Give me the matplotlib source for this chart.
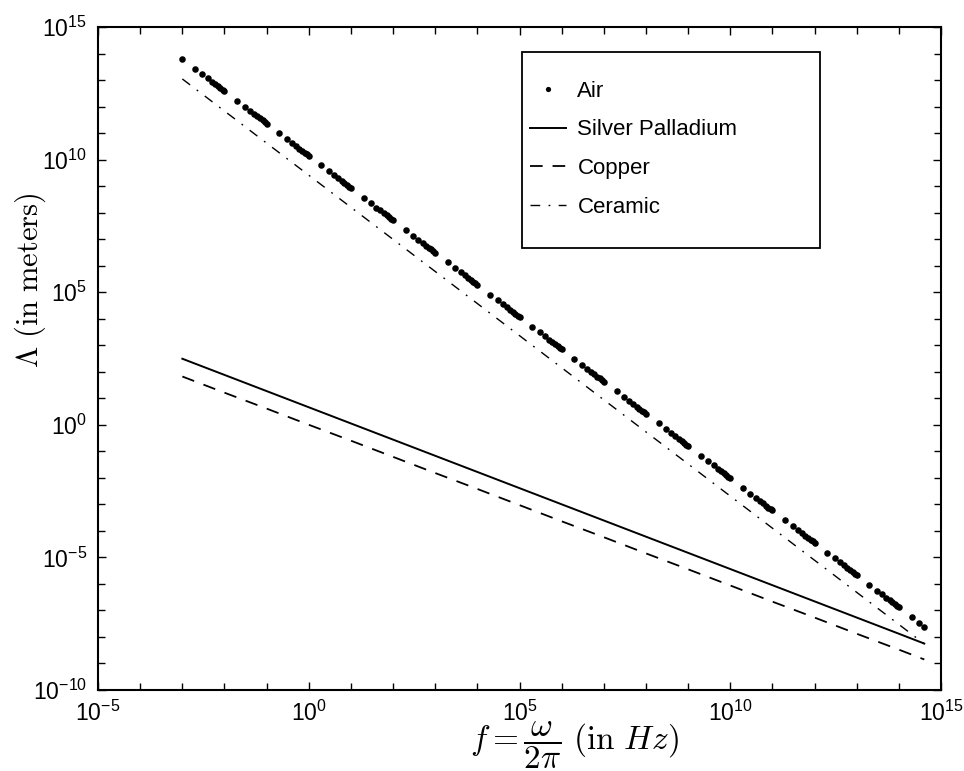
import numpy as np
import matplotlib
matplotlib.use("Agg")
import matplotlib.pyplot as plt
from matplotlib.ticker import FixedLocator, FuncFormatter, NullFormatter
from matplotlib.patches import Rectangle

# ---------------------------------------------------------------- data
# Metals and ceramic: decade frequencies (Hz) and log10 of Lambda (m)
FREQ_HZ = [1e-3, 1e-2, 1e-1, 1e0, 1e1, 1e2, 1e3, 1e4, 1e5, 1e6, 1e7,
           1e8, 1e9, 1e10, 1e11, 1e12, 1e13, 1e14, 4e14]
SILVER_PALLADIUM_LOG10 = [2.49, 1.88, 1.27, 0.66, 0.05, -0.56, -1.17, -1.78,
                          -2.39, -3.00, -3.61, -4.22, -4.83, -5.44, -6.05,
                          -6.66, -7.27, -7.88, -8.25]
COPPER_LOG10 = [1.82, 1.21, 0.61, 0.00, -0.60, -1.21, -1.82, -2.42, -3.03,
                -3.64, -4.24, -4.85, -5.45, -6.06, -6.67, -7.27, -7.88,
                -8.48, -8.85]
CERAMIC_LOG10 = [13.04, 11.83, 10.62, 9.41, 8.20, 6.99, 5.78, 4.57, 3.36,
                 2.15, 0.94, -0.27, -1.48, -2.69, -3.90, -5.11, -6.32,
                 -7.53, -8.26]

# Air: sampled at 1..9 x 10^k Hz, one row of log10(Lambda) per decade
AIR_DECADES = [-3, -2, -1, 0, 1, 2, 3, 4, 5, 6, 7, 8, 9, 10, 11, 12, 13, 14]
AIR_STEPS = [1, 2, 3, 4, 5, 6, 7, 8, 9]
AIR_LOG10 = [
    [13.79, 13.42, 13.21, 13.06, 12.94, 12.84, 12.76, 12.69, 12.63],
    [12.57, 12.21, 11.99, 11.84, 11.72, 11.63, 11.55, 11.48, 11.41],
    [11.36, 10.99, 10.78, 10.63, 10.51, 10.41, 10.33, 10.26, 10.20],
    [10.14, 9.78, 9.56, 9.41, 9.29, 9.20, 9.11, 9.04, 8.98],
    [8.93, 8.56, 8.35, 8.19, 8.08, 7.98, 7.90, 7.83, 7.77],
    [7.71, 7.34, 7.13, 6.98, 6.86, 6.76, 6.68, 6.61, 6.55],
    [6.49, 6.13, 5.91, 5.76, 5.64, 5.55, 5.47, 5.40, 5.33],
    [5.28, 4.91, 4.70, 4.55, 4.43, 4.33, 4.25, 4.18, 4.12],
    [4.06, 3.70, 3.48, 3.33, 3.21, 3.12, 3.03, 2.96, 2.90],
    [2.85, 2.48, 2.27, 2.11, 2.00, 1.90, 1.82, 1.75, 1.69],
    [1.63, 1.26, 1.05, 0.90, 0.78, 0.68, 0.60, 0.53, 0.47],
    [0.41, 0.05, -0.17, -0.32, -0.44, -0.53, -0.61, -0.68, -0.75],
    [-0.80, -1.17, -1.38, -1.53, -1.65, -1.75, -1.83, -1.90, -1.96],
    [-2.02, -2.38, -2.60, -2.75, -2.87, -2.96, -3.05, -3.12, -3.18],
    [-3.23, -3.60, -3.81, -3.97, -4.08, -4.18, -4.26, -4.33, -4.39],
    [-4.45, -4.82, -5.03, -5.18, -5.30, -5.40, -5.48, -5.55, -5.61],
    [-5.67, -6.03, -6.25, -6.40, -6.52, -6.61, -6.69, -6.76, -6.83],
    [-6.88, -7.25, -7.46, -7.61],
]

SERIES_LABELS = ["Air", "Silver Palladium", "Copper", "Ceramic"]
X_MAJOR = [1e-5, 1e0, 1e5, 1e10, 1e15]
Y_MAJOR = [1e-10, 1e-5, 1e0, 1e5, 1e10, 1e15]

# ---------------------------------------------------------------- style
plt.rcParams["font.family"] = ["Liberation Sans", "DejaVu Sans"]
plt.rcParams["mathtext.fontset"] = "custom"
plt.rcParams["mathtext.rm"] = "Liberation Sans"
plt.rcParams["mathtext.it"] = "Liberation Sans:italic"
plt.rcParams["mathtext.bf"] = "Liberation Sans:bold"

fig = plt.figure(figsize=(9.64, 7.71), dpi=100)
ax = fig.add_axes([0.1017, 0.1051, 0.8745, 0.8599])
ax.set_xscale("log")
ax.set_yscale("log")
ax.set_xlim(1e-5, 1e15)
ax.set_ylim(1e-10, 1e15)

air_f = [step * 10.0 ** dec
         for dec, row in zip(AIR_DECADES, AIR_LOG10)
         for step, _ in zip(AIR_STEPS, row)]
air_v = [10.0 ** v for row in AIR_LOG10 for v in row]

ax.plot(air_f, air_v, linestyle="none", marker="o", markersize=4.7,
        markeredgewidth=0, color="black", label=SERIES_LABELS[0])
ax.plot(FREQ_HZ, 10.0 ** np.array(SILVER_PALLADIUM_LOG10), color="black",
        lw=1.4, label=SERIES_LABELS[1])
ax.plot(FREQ_HZ, 10.0 ** np.array(COPPER_LOG10), color="black", lw=1.3,
        linestyle=(0, (7, 5.5)), label=SERIES_LABELS[2])
ax.plot(FREQ_HZ, 10.0 ** np.array(CERAMIC_LOG10), color="black", lw=1.0,
        linestyle=(0, (7, 6, 1.3, 6)), label=SERIES_LABELS[3])

# ---------------------------------------------------------------- axes
decades = lambda lo, hi: [10.0 ** k for k in range(lo, hi + 1)]
ax.xaxis.set_major_locator(FixedLocator(X_MAJOR))
ax.yaxis.set_major_locator(FixedLocator(Y_MAJOR))
ax.xaxis.set_minor_locator(FixedLocator(decades(-5, 15)))
ax.yaxis.set_minor_locator(FixedLocator(decades(-10, 15)))
ax.xaxis.set_minor_formatter(NullFormatter())
ax.yaxis.set_minor_formatter(NullFormatter())
fmt = FuncFormatter(lambda v, _: r"$\mathregular{10^{%d}}$" % round(np.log10(v)))
ax.xaxis.set_major_formatter(fmt)
ax.yaxis.set_major_formatter(fmt)

ax.tick_params(which="both", direction="in", top=True, right=True,
               width=1.0, labelsize=16.5)
ax.tick_params(which="major", length=6)
ax.tick_params(which="minor", length=5)
ax.tick_params(axis="x", pad=8)
ax.tick_params(axis="y", pad=8)
for sp in ax.spines.values():
    sp.set_linewidth(1.5)

ax.set_ylabel(r"$\Lambda\ (\mathrm{in\ meters})$", fontsize=22,
              math_fontfamily="cm")
ax.yaxis.set_label_coords(-0.059, 0.618)
ax.set_xlabel(r"$f = \dfrac{\omega}{2\pi}\ (\mathrm{in}\ Hz)$", fontsize=24,
              math_fontfamily="cm")
ax.xaxis.set_label_coords(0.565, -0.083)
ax.xaxis.label.set_va("center")

# ---------------------------------------------------------------- legend
ax.add_patch(Rectangle((0.503, 0.667), 0.3535, 0.295, transform=ax.transAxes,
                       fill=False, edgecolor="black", lw=1.3, zorder=5))
leg = ax.legend(loc="upper left", bbox_to_anchor=(0.512, 0.919),
                frameon=False, fontsize=16, borderpad=0, borderaxespad=0,
                handlelength=1.65, handletextpad=0.5, labelspacing=0.8,
                numpoints=1, markerscale=0.8)

fig.savefig("out.png", dpi=100)
